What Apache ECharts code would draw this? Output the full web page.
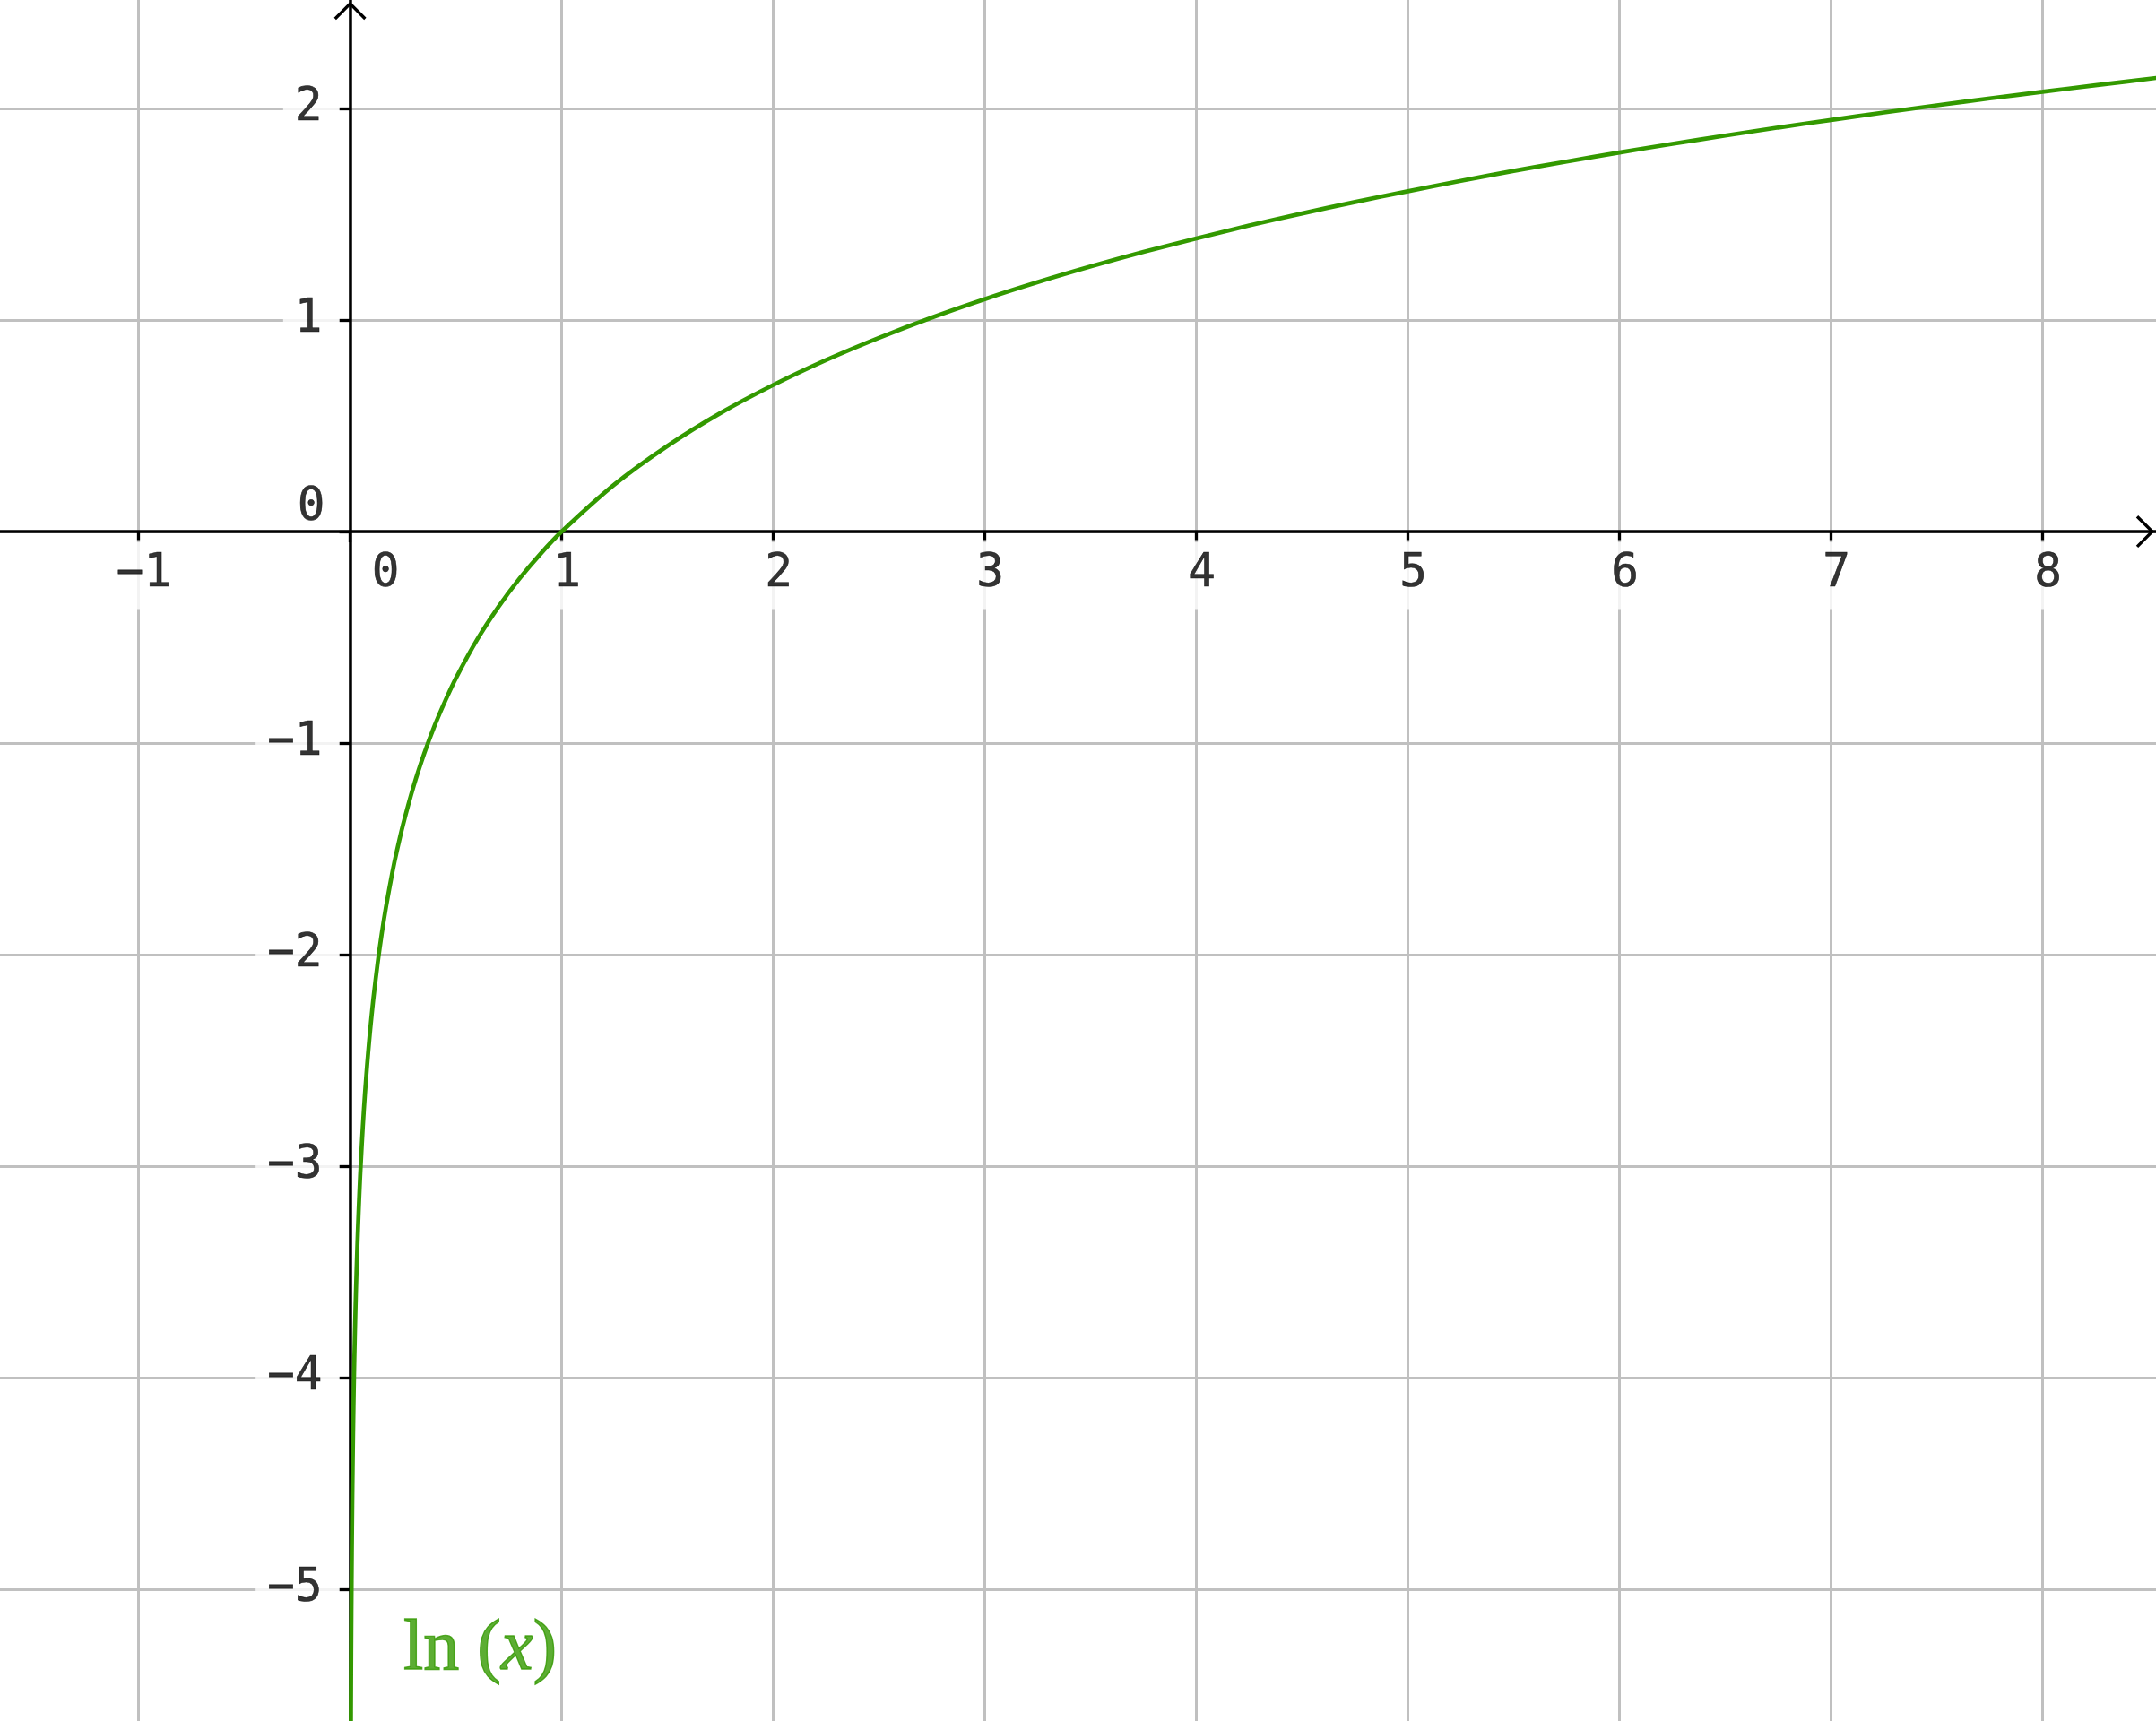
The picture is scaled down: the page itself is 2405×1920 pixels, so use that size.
<!DOCTYPE html>
<html lang="en">
<head>
    <meta charset="UTF-8">
    <title>ln(x)</title>
    <script type="text/javascript" src="https://cdn.jsdelivr.net/npm/echarts@6/dist/echarts.min.js"></script>
    <style>
        html, body {margin: 0; padding: 0; background: #fff;}
        #chart {width: 2405px; height: 1920px;}
    </style>
</head>
<body>
<div id="chart"></div>
<script>
    // visible window of the plot
    var xRange = [-1.655, 8.536];
    var yRange = [-5.623, 2.513];

    // ticks and labels (0 is drawn separately near the origin)
    var xTicks = [-1, 0, 1, 2, 3, 4, 5, 6, 7, 8];
    var xLabels = [-1, 1, 2, 3, 4, 5, 6, 7, 8];
    var yTicks = [-5, -4, -3, -2, -1, 0, 1, 2];
    var yLabels = [-5, -4, -3, -2, -1, 1, 2];

    // points
    var curveX = [0.0035, 0.004, 0.0045, 0.005, 0.006, 0.007, 0.008, 0.009, 0.01, 0.011, 0.013, 0.015, 0.017, 0.02,
                  0.025, 0.03, 0.035, 0.04, 0.045, 0.05, 0.06, 0.07, 0.08, 0.09, 0.1, 0.11, 0.13, 0.15, 0.17,
                  0.2, 0.22, 0.25, 0.3, 0.35, 0.4, 0.45, 0.5, 0.6, 0.7, 0.8, 0.9,
                  1, 1.25, 1.5, 1.75, 2, 2.25, 2.5, 2.75, 3, 3.25, 3.5, 3.75, 4, 4.25, 4.5, 4.75,
                  5, 5.25, 5.5, 5.75, 6, 6.25, 6.5, 6.75, 7, 7.25, 7.5, 7.75, 8, 8.25, 8.6];
    var curveY = [-5.655, -5.521, -5.404, -5.298, -5.116, -4.962, -4.828, -4.711, -4.605, -4.51, -4.343, -4.2, -4.075, -3.912,
                  -3.689, -3.507, -3.352, -3.219, -3.101, -2.996, -2.813, -2.659, -2.526, -2.408, -2.303, -2.207, -2.04, -1.897, -1.772,
                  -1.609, -1.514, -1.386, -1.204, -1.05, -0.916, -0.799, -0.693, -0.511, -0.357, -0.223, -0.105,
                  0, 0.223, 0.405, 0.56, 0.693, 0.811, 0.916, 1.012, 1.099, 1.179, 1.253, 1.322, 1.386, 1.447, 1.504, 1.558,
                  1.609, 1.658, 1.705, 1.749, 1.792, 1.833, 1.872, 1.91, 1.946, 1.981, 2.015, 2.048, 2.079, 2.11, 2.152];

    var curveName = 'ln (x)';
    var green = '#339900';
    var gridGray = '#c0c0c0';
    var mono = 'DejaVu Sans Mono';

    var curveData = [];
    for (var i = 0; i < curveX.length; i++) {
        curveData.push([curveX[i], curveY[i]]);
    }
    function minus(v) { return String(v).replace('-', '\u2212'); }

    // tick labels as points on the axes
    var xLabelData = [];
    for (var i = 0; i < xLabels.length; i++) {
        xLabelData.push({value: [xLabels[i], 0], name: minus(xLabels[i])});
    }
    var yLabelData = [];
    for (var i = 0; i < yLabels.length; i++) {
        yLabelData.push({value: [0, yLabels[i]], name: minus(yLabels[i])});
    }

    // open chevron for the axis ends
    var chevron = 'path://M-18,18 L0,0 L18,18 L15.6,20.4 L0,4.8 L-15.6,20.4 Z';

    var axisCommon = {
        type: 'value',
        axisLine: {
            onZero: true,
            lineStyle: {color: '#000', width: 3.5},
            symbol: ['none', chevron],
            symbolSize: [36, 20.4],
            symbolOffset: [0, -12]
        },
        axisLabel: {show: false},
        splitLine: {
            show: true,
            showMinLine: true,
            showMaxLine: true,
            lineStyle: {color: gridGray, width: 3}
        }
    };

    var chart = echarts.init(document.getElementById('chart'), null, {renderer: 'canvas'});
    chart.setOption({
        animation: false,
        backgroundColor: '#fff',
        grid: {left: 0, right: 0, top: 0, bottom: 0, containLabel: false, outerBoundsMode: 'none'},
        xAxis: echarts.util.merge({
            min: xRange[0],
            max: xRange[1],
            axisTick: {show: true, inside: false, length: 12, customValues: xTicks,
                       lineStyle: {color: '#000', width: 3.3}}
        }, axisCommon),
        yAxis: echarts.util.merge({
            min: yRange[0],
            max: yRange[1],
            axisTick: {show: true, inside: false, length: 12, customValues: yTicks,
                       lineStyle: {color: '#000', width: 3.3}}
        }, axisCommon),
        series: [
            {
                name: curveName,
                type: 'line',
                data: curveData,
                showSymbol: false,
                smooth: 0.3,
                clip: true,
                z: 5,
                lineStyle: {color: green, width: 4.7}
            },
            {
                // x tick labels
                type: 'scatter',
                symbolSize: 0,
                silent: true,
                z: 3,
                data: xLabelData,
                label: {
                    show: true,
                    position: 'inside',
                    offset: [6, 48],
                    formatter: '{b}',
                    fontFamily: mono,
                    fontSize: 51,
                    color: '#000',
                    textBorderColor: '#000',
                    textBorderWidth: 0.6,
                    backgroundColor: '#fff',
                    padding: [13, 8, 13, 8]
                }
            },
            {
                // y tick labels
                type: 'scatter',
                symbolSize: 0,
                silent: true,
                z: 3,
                data: yLabelData,
                label: {
                    show: true,
                    position: 'left',
                    distance: 12,
                    formatter: '{b}',
                    fontFamily: mono,
                    fontSize: 51,
                    color: '#000',
                    textBorderColor: '#000',
                    textBorderWidth: 0.6,
                    backgroundColor: '#fff',
                    padding: [6, 19, 6, 13]
                }
            },
            {
                // the two zero labels beside the origin
                type: 'scatter',
                symbolSize: 0,
                silent: true,
                z: 4,
                data: [
                    {value: [0, 0], label: {offset: [39.5, 48]}},
                    {value: [0, 0], label: {offset: [-43.5, -26]}}
                ],
                label: {
                    show: true,
                    position: 'inside',
                    formatter: '0',
                    fontFamily: mono,
                    fontSize: 51,
                    color: '#000',
                    textBorderColor: '#000',
                    textBorderWidth: 0.6
                }
            },
            {
                // function name near the bottom of the curve
                type: 'scatter',
                symbolSize: 0,
                silent: true,
                z: 6,
                data: [[0.252, -5.29]],
                label: {
                    show: true,
                    position: 'right',
                    distance: 0,
                    formatter: '{a|ln (}{i|x}{a|)}',
                    rich: {
                        a: {fontFamily: 'Liberation Serif', fontSize: 80, color: green,
                            textBorderColor: green, textBorderWidth: 1.4},
                        i: {fontFamily: 'Liberation Serif', fontStyle: 'italic', fontSize: 80, color: green,
                            textBorderColor: green, textBorderWidth: 1.4}
                    }
                }
            }
        ]
    });
</script>
</body>
</html>
